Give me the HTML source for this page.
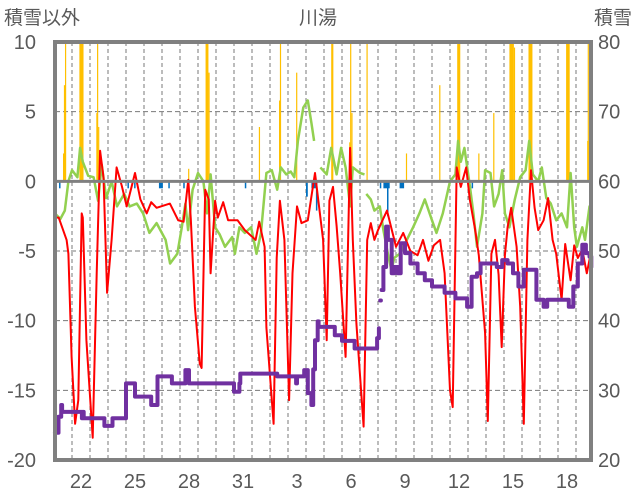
<!DOCTYPE html>
<html><head><meta charset="utf-8">
<style>
html,body{margin:0;padding:0;background:#fff;}
svg{display:block;}
text{font-family:"Liberation Sans","Noto Sans CJK JP",sans-serif;fill:#595959;}
</style></head>
<body>
<svg id="chart" width="636" height="501" viewBox="0 0 636 501" xmlns="http://www.w3.org/2000/svg">
<text x="4" y="24" font-size="19">積雪以外</text>
<text x="318" y="24" font-size="19" text-anchor="middle">川湯</text>
<text x="632" y="24" font-size="19" text-anchor="end">積雪</text>
<g id="grid"></g>
<g id="bars"></g>
<g id="lines"></g>
<g id="axes"></g>
</svg>
<script>
const leftTicks=[10,5,0,-5,-10,-15,-20];
const rightTicks=[80,70,60,50,40,30,20];
const dayLabels=["22","25","28","31","3","6","9","12","15","18"];
const dayLabelPos=[1,4,7,10,13,16,19,22,25,28];

const precipT=[0.5,0.55,0.61,1.41,2.35,2.39,2.45,7.45,8.42,8.58,11.38,12.5,12.55,13.45,15.4,16.4,16.45,16.52,17.36,19.55,21.4,22.4,23.57,24.4,25.3,25.55,26.36,28.45,29.62,29.65,29.7];
const precipV=[2.0,6.9,10,10,4.9,10,3.9,0.9,10,7.8,3.9,5.8,10,7.8,10,2.8,10,4.9,10,2.0,6.9,10,2.0,4.9,10,9.6,10,10,2.9,10,2.9];
const precipDur=[0.05,0.05,0.04,0.23,0.08,0.04,0.04,0.04,0.16,0.05,0.05,0.05,0.05,0.05,0.12,0.05,0.05,0.05,0.06,0.04,0.04,0.17,0.04,0.04,0.25,0.06,0.22,0.2,0.03,0.03,0.03];

const meltT=[0.28,4.08,4.45,5.83,6.35,7.18,10.6,14.0,14.3,14.55,18.1,18.3,18.5,19.2,23.2];
const meltV=[-0.5,-0.5,-0.5,-0.5,-0.5,-0.5,-0.5,-1.1,-0.5,-2.1,-0.5,-0.5,-2.5,-0.5,-0.5];
const meltDur=[0.06,0.06,0.06,0.22,0.06,0.06,0.06,0.1,0.25,0.05,0.06,0.35,0.06,0.25,0.06];

const redT=[0.05,0.26,0.7,0.8,0.98,1.17,1.35,1.54,1.6,1.8,2.15,2.37,2.56,2.75,2.95,3.2,3.48,3.76,4.04,4.5,4.8,5.15,5.4,5.7,6.44,6.9,7.2,7.46,7.6,7.83,8.1,8.2,8.4,8.6,8.7,8.95,9.1,9.4,9.67,10.2,10.6,11.2,11.4,11.7,11.8,12.2,12.37,12.55,12.8,13.06,13.25,13.5,13.75,14.1,14.5,14.95,15.15,15.3,15.5,15.7,15.9,16.2,16.45,16.6,16.8,17.2,17.4,17.6,17.8,18.0,18.5,19.0,19.4,19.8,20.2,20.5,20.8,21.1,21.45,21.7,22.0,22.15,22.37,22.6,22.9,23.1,23.4,23.6,23.95,24.1,24.3,24.5,24.7,24.87,25.05,25.2,25.4,25.7,25.9,26.1,26.3,26.5,26.7,26.9,27.2,27.45,27.7,27.9,28.2,28.4,28.7,28.9,29.1,29.35,29.6,29.8];
const redV=[-2.6,-2.6,-4.2,-5.2,-12.6,-17.4,-15.7,-2.3,-2.6,-11.4,-18.4,-6.6,2.2,0.3,-8.0,-4.2,1.0,-0.3,-1.8,0.6,-1.3,-2.3,-1.5,-1.9,-1.6,-2.8,-2.9,0.1,-2.7,-9.0,-13.1,-13.4,-0.6,-1.3,-6.6,-1.4,-2.6,-1.5,-2.8,-2.8,-3.5,-4.2,-2.9,-4.7,-10.5,-17.4,-5.5,-1.4,-4.2,-15.7,-6.6,-1.8,-3.0,-2.8,0.6,-4.2,-11.4,-1.4,-0.4,-3.2,-6.6,-12.6,2.4,-4.2,-10.2,-17.6,-4.2,-3.0,-4.2,-3.5,-2.1,-4.7,-3.7,-5.0,-5.3,-4.2,-5.7,-4.6,-4.2,-6.6,-15.0,-16.2,1.0,-0.4,1.0,-1.3,-3.5,-5.3,-10.9,-17.2,-5.2,-4.2,-6.7,-11.9,-5.3,-3.3,-1.9,-4.7,-9.0,-17.4,-4.2,0.8,-1.9,-3.5,-2.8,-1.2,-4.2,-5.2,-8.5,-4.5,-7.1,-4.6,-5.5,-4.9,-6.6,-5.3];

const greenT=[0.05,0.35,0.6,0.8,1.0,1.3,1.45,1.6,1.9,2.2,2.45,2.65,2.9,3.2,3.5,3.9,4.2,4.6,4.95,5.3,5.7,6.2,6.45,6.85,7.1,7.3,7.45,7.7,8.0,8.3,8.5,8.7,8.95,9.2,9.5,9.9,10.05,10.3,10.6,10.95,11.25,11.5,11.8,12.1,12.4,12.6,12.9,13.15,13.35,13.55,13.85,14.1,14.3,14.45,null,14.8,15.15,15.4,15.7,15.95,16.2,16.45,16.6,17.0,17.25,null,17.35,17.6,17.8,18.1,18.3,18.55,18.75,18.9,19.2,19.6,19.95,20.3,20.6,21.0,21.25,21.6,22.0,22.3,22.45,22.6,22.8,23.1,23.3,23.5,23.8,23.95,24.25,24.45,24.7,24.9,25.05,25.3,25.6,25.9,26.2,26.4,26.6,26.9,27.1,27.35,27.6,27.9,28.2,28.5,28.7,28.9,29.05,29.35,29.5,29.75,29.85];
const greenV=[-2.3,-2.7,-2.1,0,0.8,0.3,2.4,1.4,0.4,0.3,-1.4,1.2,-1.2,0,-1.8,-0.9,-1.8,-1.6,-2.3,-3.7,-3.0,-4.2,-5.9,-5.2,-3.3,-1.6,-3.5,-0.6,0.6,0,-2.3,0.5,-3.3,-3.8,-4.7,-4.0,-5.2,-3.3,-3.7,-3.3,-5.2,-3.7,0.6,0.8,-0.6,1.0,0.5,0.7,0.3,2.9,5.3,5.8,4.2,2.9,null,1.0,0.5,2.4,0.5,2.4,1.0,-1.8,1.0,0.6,0.5,null,-0.9,-1.3,-2.1,-1.8,-3.5,-5.2,-6.4,-5.5,-5.2,-4.2,-3.3,-2.3,-1.3,-2.8,-3.7,-2.3,0,0.5,2.9,1.4,2.4,-0.3,-2.3,-4.7,-2.3,0.8,0.6,-1.8,-0.9,0.8,-2.3,-3.3,-1.3,0.3,0.8,2.9,0.5,0,1.0,-1.2,-1.6,-2.8,-2.3,-3.3,0.6,-3.3,-4.7,-3.3,-4.2,-1.8,-3.3];

const snowT=[0.05,0.25,0.4,0.45,0.7,1.5,1.55,1.6,1.65,2.77,2.8,3.2,3.25,3.9,4.0,4.45,4.5,5.37,5.4,5.7,5.75,6.5,6.55,7.2,7.3,7.5,7.6,9.9,10.0,10.3,10.35,10.45,12.4,13.4,13.45,13.5,13.8,13.9,14.1,14.3,14.4,14.5,14.65,14.7,15.55,15.6,15.9,16.0,16.67,16.7,17.8,17.95,18.05,null,18.12,18.16,null,18.2,18.3,18.45,18.55,18.76,18.9,19.1,19.26,19.5,19.8,20.2,20.6,21.0,21.7,22.3,22.85,22.95,23.1,23.2,23.5,23.7,24.45,24.6,24.9,25.2,25.5,25.8,26.1,26.4,26.8,27.1,27.2,27.35,27.4,28.5,28.6,28.85,29.1,29.35,29.55,29.75,29.85];
const snowV=[23.9,26.2,27.9,26.9,26.9,26.9,26.0,26.9,26.0,26.0,24.9,24.9,26.0,26.0,31.0,31.0,29.1,29.1,27.9,27.9,32.0,32.0,31.0,31.0,32.9,31.0,31.0,31.0,29.8,31.0,32.4,32.4,32.0,32.0,31.0,32.0,32.0,32.9,29.6,27.9,33.0,37.2,39.9,39.1,39.1,37.9,37.9,37.1,37.1,36.0,36.0,37.5,38.9,null,42.9,42.9,null,44.4,47.7,53.5,51.6,46.8,47.7,46.8,51.1,49.7,48.2,46.8,45.8,44.9,44.0,43.2,43.2,42.0,42.0,46.3,46.8,48.2,48.2,47.7,48.7,48.2,46.8,44.9,47.3,47.3,43.0,43.0,42.0,42.0,43.0,43.0,42.0,44.9,48.2,50.9,49.7,49.2,47.7];

const NS="http://www.w3.org/2000/svg";
const X0=54, DAYPX=18, PL=55, PR=591, PT=42, PB=460;
function xs(t){return X0+DAYPX*t;}
function yl(v){return PT+(10-v)*(PB-PT)/30;}
function yr(v){return PT+(80-v)*(PB-PT)/60;}
function mk(tag,attrs,parent){const e=document.createElementNS(NS,tag);for(const k in attrs)e.setAttribute(k,attrs[k]);parent.appendChild(e);return e;}

const grid=document.getElementById('grid');
for(let d=1;d<=29;d++){
  const l=mk('line',{x1:xs(d),x2:xs(d),y1:PT,y2:PB,stroke:'#7a7a7a','stroke-width':1,'stroke-dasharray':'4,3'},grid);
  
  
}
leftTicks.forEach(v=>{
  if(v!==10&&v!==-20&&v!==0){
    const l=mk('line',{x1:PL,x2:PR,y1:yl(v),y2:yl(v),stroke:'#7a7a7a','stroke-width':1,'stroke-dasharray':'5,3'},grid);
    
    
  }
});

const bars=document.getElementById('bars');
precipT.forEach((t,i)=>{
  const w=Math.max(1.2,precipDur[i]*DAYPX);
  const r=mk('rect',{x:xs(t),y:yl(precipV[i]),width:w,height:yl(0)-yl(precipV[i]),fill:'#FFC000'},bars);
  
  
});
meltT.forEach((t,i)=>{
  const w=Math.max(1.5,meltDur[i]*DAYPX);
  const r=mk('rect',{x:xs(t),y:yl(0),width:w,height:yl(meltV[i])-yl(0),fill:'#0070C0'},bars);
  
  
});

function pathOf(T,V,yf){
  let d='',pen=false;
  for(let i=0;i<T.length;i++){
    if(T[i]===null||V[i]===null){pen=false;continue;}
    d+=(pen?'L':'M')+xs(T[i]).toFixed(1)+' '+yf(V[i]).toFixed(1)+' ';
    pen=true;
  }
  return d;
}
function stepPath(T,V,yf){
  let d='',pen=false,prevY=0;
  for(let i=0;i<T.length;i++){
    if(T[i]===null||V[i]===null){pen=false;continue;}
    const x=xs(T[i]).toFixed(1), y=yf(V[i]).toFixed(1);
    if(!pen){d+='M'+x+' '+y+' ';}
    else{d+='L'+x+' '+prevY+' L'+x+' '+y+' ';}
    prevY=y;pen=true;
  }
  return d;
}
const lines=document.getElementById('lines');
const gp=mk('path',{d:pathOf(greenT,greenV,yl),fill:'none',stroke:'#92D050','stroke-width':2.5,'stroke-linejoin':'round'},lines);


const rp=mk('path',{d:pathOf(redT,redV,yl),fill:'none',stroke:'#FF0000','stroke-width':2,'stroke-linejoin':'round'},lines);


const sp=mk('path',{d:stepPath(snowT,snowV,yr),fill:'none',stroke:'#7030A0','stroke-width':4,'stroke-linejoin':'round','stroke-linecap':'round'},lines);



const axes=document.getElementById('axes');
const z=mk('line',{x1:PL,x2:PR,y1:yl(0),y2:yl(0),stroke:'#808080','stroke-width':3},axes);


const f=mk('rect',{x:PL,y:PT,width:PR-PL,height:PB-PT,fill:'none',stroke:'#808080','stroke-width':4},axes);


leftTicks.forEach(v=>{
  const t=mk('text',{x:36,y:yl(v)+7,'font-size':20,'text-anchor':'end'},axes);
  t.textContent=v;
  
  
});
rightTicks.forEach(v=>{
  const t=mk('text',{x:598,y:yr(v)+7,'font-size':20},axes);
  t.textContent=v;
  
  
});
dayLabels.forEach((s,i)=>{
  const t=mk('text',{x:xs(dayLabelPos[i]+0.5),y:488,'font-size':20,'text-anchor':'middle'},axes);
  t.textContent=s;
  
  
});
</script>
</body></html>
